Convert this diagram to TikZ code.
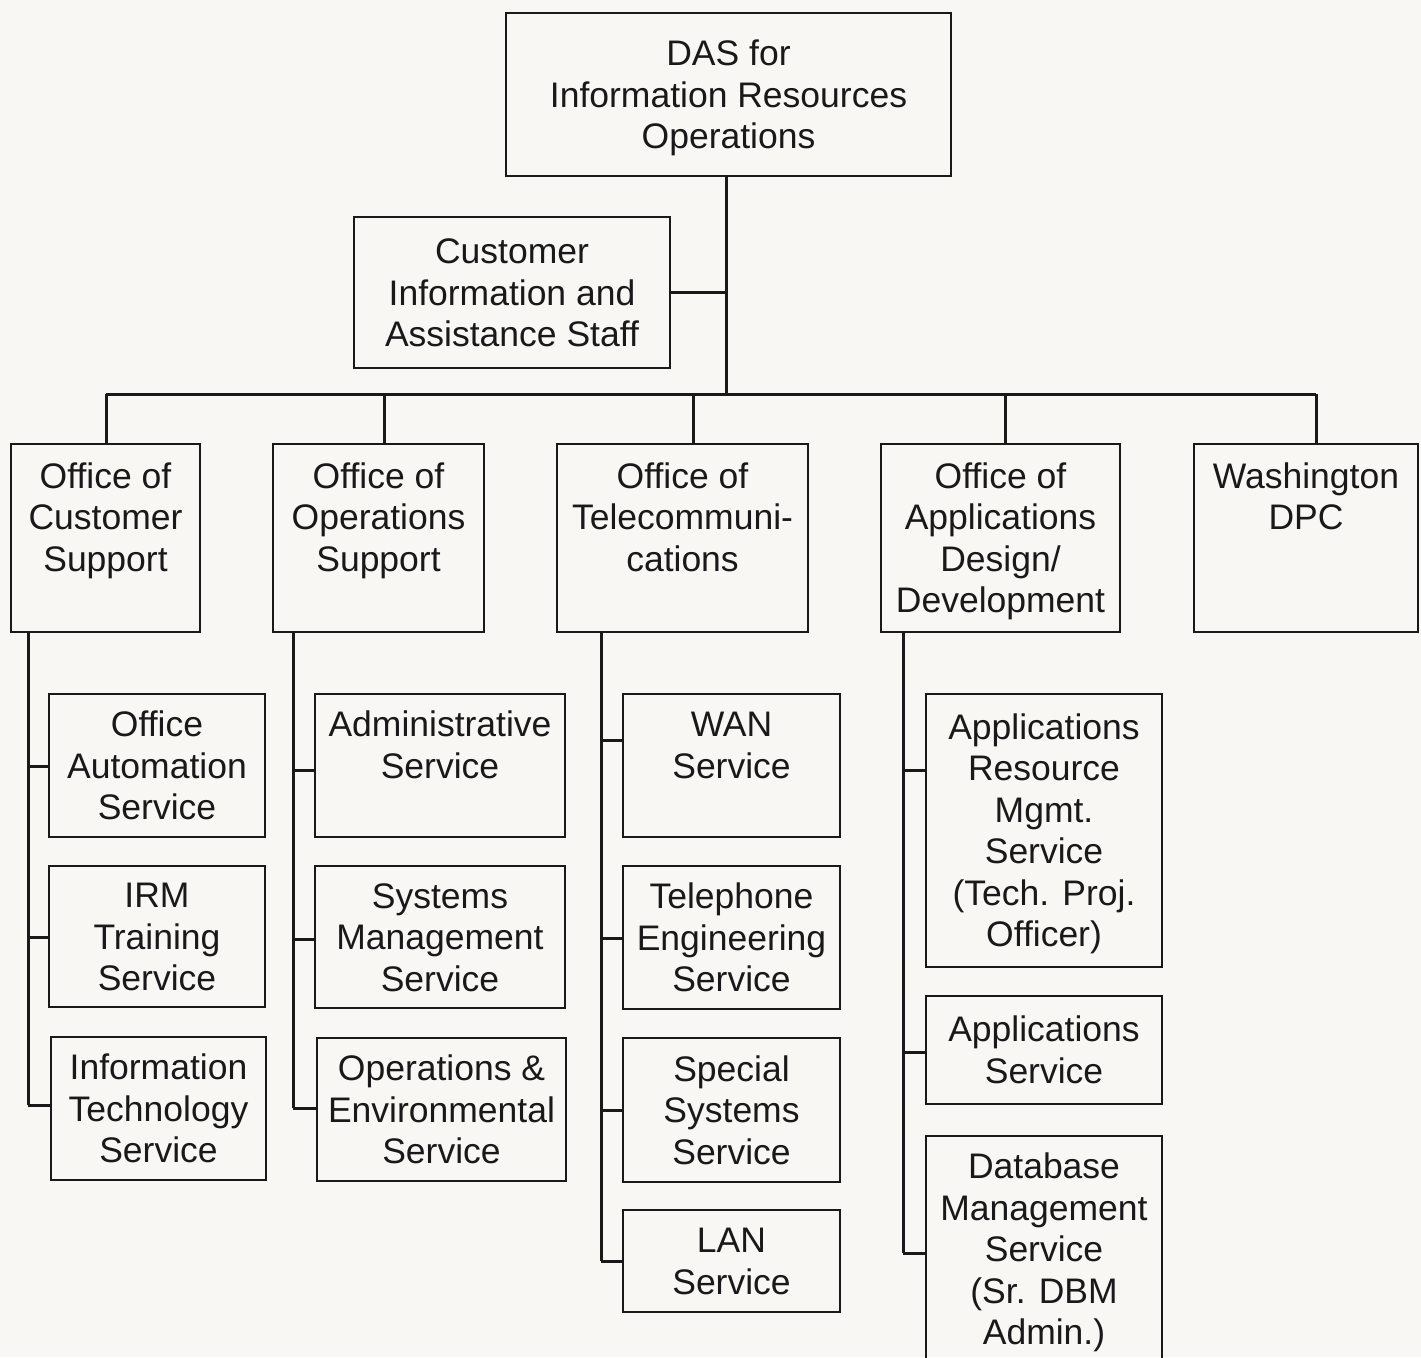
\documentclass[tikz,border=0pt]{standalone}
\usepackage{fontspec}
\setmainfont{Liberation Sans}
\makeatletter
\newcommand\orgtxt[1]{\setbox\strutbox\hbox{\vrule height 29.05pt depth 12.45pt width 0pt}%
  \begin{tabular}{@{}c@{}}\rule{0pt}{37.9pt}#1\end{tabular}}
\makeatother
\begin{document}
\begin{tikzpicture}[x=1pt,y=-1pt,
  box/.style={draw=black!90, line width=2.9pt, fill=none, inner sep=0pt,
    font=\fontsize{35.5}{41.5}\selectfont, text=black!90},
  conn/.style={draw=black!90, line width=3pt, line join=miter}]
\useasboundingbox (0,0) rectangle (1421,1357);
\fill[color={rgb,255:red,249;green,247;blue,244}] (0,0) rectangle (1421,1357);
\clip (0,0) rectangle (1421,1357);
% top levels
\node[box, minimum width=445pt, minimum height=163pt] (top) at (728.5,94.5) {\orgtxt{DAS for\\Information Resources\\Operations}};
\node[box, minimum width=316pt, minimum height=151pt] (cias) at (512,292.5) {\orgtxt{Customer\\Information and\\Assistance Staff}};
% offices
\node[box, minimum width=189pt, minimum height=188pt] (ocs) at (105.5,538) {\orgtxt{Office of\\Customer\\Support\\~}};
\node[box, minimum width=211pt, minimum height=188pt] (oos) at (378.5,538) {\orgtxt{Office of\\Operations\\Support\\~}};
\node[box, minimum width=251pt, minimum height=188pt] (otel) at (682.5,538) {\orgtxt{Office of\\Telecommuni-\\cations\\~}};
\node[box, minimum width=239pt, minimum height=188pt] (oad) at (1000.5,538) {\orgtxt{Office of\\Applications\\Design/\\Development}};
\node[box, minimum width=224pt, minimum height=188pt] (wdpc) at (1306,538) {\orgtxt{Washington\\DPC\\~\\~}};
% column 1
\node[box, minimum width=216pt, minimum height=143pt] (oas) at (157,765.5) {\orgtxt{Office\\Automation\\Service}};
\node[box, minimum width=216pt, minimum height=141pt] (irm) at (157,936.5) {\orgtxt{IRM\\Training\\Service}};
\node[box, minimum width=215pt, minimum height=143pt] (its) at (158.5,1108.5) {\orgtxt{Information\\Technology\\Service}};
% column 2
\node[box, minimum width=250pt, minimum height=143pt] (adm) at (440,765.5) {\orgtxt{Administrative\\Service\\~}};
\node[box, minimum width=250pt, minimum height=142pt] (sms) at (440,937) {\orgtxt{Systems\\Management\\Service}};
\node[box, minimum width=249pt, minimum height=143pt] (oes) at (441.5,1109.5) {\orgtxt{Operations \&\\Environmental\\Service}};
% column 3
\node[box, minimum width=217pt, minimum height=143pt] (wan) at (731.5,765.5) {\orgtxt{WAN\\Service\\~}};
\node[box, minimum width=217pt, minimum height=143pt] (tel) at (731.5,937.5) {\orgtxt{Telephone\\Engineering\\Service}};
\node[box, minimum width=217pt, minimum height=144pt] (sss) at (731.5,1110) {\orgtxt{Special\\Systems\\Service}};
\node[box, minimum width=217pt, minimum height=102pt] (lan) at (731.5,1261) {\orgtxt{LAN\\Service}};
% column 4
\node[box, minimum width=236pt, minimum height=273pt] (arm) at (1044,830.5) {\orgtxt{Applications\\Resource\\Mgmt.\\Service\\(Tech. Proj.\\Officer)}};
\node[box, minimum width=236pt, minimum height=108pt] (aps) at (1044,1050) {\orgtxt{Applications\\Service}};
\node[box, minimum width=236pt, minimum height=226pt] (dbm) at (1044,1249) {\orgtxt{Database\\Management\\Service\\(Sr. DBM\\Admin.)}};
% trunk and bus
\coordinate (trunk) at (726,394);
\draw[conn] (top.south -| trunk) -- (trunk);
\draw[conn] (cias.east) -- (cias.east -| trunk);
\coordinate (busL) at (106,394);
\coordinate (busR) at (1316,394);
\draw[conn] (busL) -- (busR);
\foreach \n/\x in {ocs/106, oos/384, otel/693, oad/1005, wdpc/1316}{
  \coordinate (d-\n) at (\x,394);
  \draw[conn] (d-\n) -- (d-\n |- \n.north);
}
% column connectors
\foreach \parent/\bx/\kids in {ocs/28/{oas/766,irm/937,its/1105},
                               oos/293/{adm/770,sms/939,oes/1108},
                               otel/601/{wan/740,tel/938,sss/1110,lan/1261},
                               oad/903/{arm/770,aps/1052,dbm/1253}}{
  \foreach \k/\y in \kids{
    \coordinate (j-\k) at (\bx,\y);
    \draw[conn] (j-\k) -- (j-\k -| \k.west);
  }
}
\draw[conn] (ocs.south -| j-its) -- (j-its);
\draw[conn] (oos.south -| j-oes) -- (j-oes);
\draw[conn] (otel.south -| j-lan) -- (j-lan);
\draw[conn] (oad.south -| j-dbm) -- (j-dbm);
\end{tikzpicture}
\end{document}
